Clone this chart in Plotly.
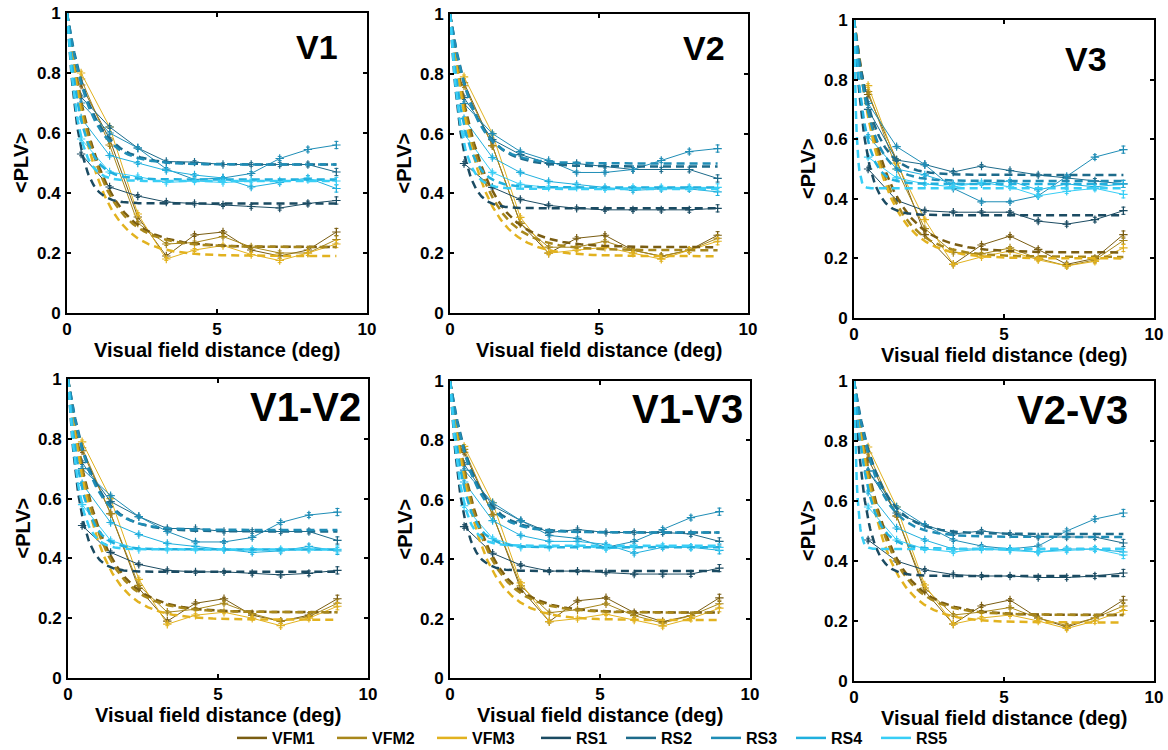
import numpy as np
import plotly.graph_objects as go

# ---------------- data ----------------
DIST = [0.47, 1.42, 2.36, 3.31, 4.25, 5.20, 6.14, 7.09, 8.03, 8.98]
SERIES = ["VFM1", "VFM2", "VFM3", "RS1", "RS2", "RS3", "RS4", "RS5"]
COLORS = ["#7a5d12", "#a8871b", "#e2b21f", "#1b4b62", "#1d6b8b",
          "#1f8db6", "#20b0de", "#38cef6"]
PANELS = ["V1", "V2", "V3", "V1-V2", "V1-V3", "V2-V3"]
ERR = [0.006, 0.005, 0.005, 0.005, 0.005, 0.005, 0.006, 0.007, 0.008, 0.012]

V1 = {
    "VFM1": [0.76, 0.58, 0.32, 0.19, 0.26, 0.27, 0.21, 0.19, 0.21, 0.27],
    "VFM2": [0.78, 0.56, 0.30, 0.23, 0.235, 0.255, 0.22, 0.20, 0.20, 0.245],
    "VFM3": [0.80, 0.62, 0.33, 0.18, 0.21, 0.225, 0.195, 0.175, 0.20, 0.23],
    "RS1": [0.53, 0.42, 0.39, 0.37, 0.365, 0.36, 0.355, 0.35, 0.365, 0.375],
    "RS2": [0.72, 0.62, 0.55, 0.505, 0.503, 0.495, 0.495, 0.495, 0.495, 0.47],
    "RS3": [0.70, 0.60, 0.55, 0.48, 0.445, 0.45, 0.465, 0.515, 0.545, 0.56],
    "RS4": [0.65, 0.525, 0.50, 0.475, 0.46, 0.45, 0.42, 0.435, 0.45, 0.415],
    "RS5": [0.58, 0.47, 0.455, 0.435, 0.44, 0.435, 0.44, 0.44, 0.445, 0.44],
}
V2 = {
    "VFM1": [0.77, 0.56, 0.30, 0.20, 0.25, 0.26, 0.21, 0.19, 0.21, 0.26],
    "VFM2": [0.76, 0.56, 0.30, 0.22, 0.22, 0.24, 0.21, 0.19, 0.21, 0.25],
    "VFM3": [0.79, 0.60, 0.32, 0.20, 0.21, 0.22, 0.20, 0.18, 0.21, 0.24],
    "RS1": [0.50, 0.42, 0.38, 0.36, 0.35, 0.345, 0.345, 0.345, 0.345, 0.35],
    "RS2": [0.72, 0.58, 0.53, 0.50, 0.50, 0.49, 0.48, 0.48, 0.48, 0.45],
    "RS3": [0.70, 0.60, 0.54, 0.51, 0.47, 0.47, 0.48, 0.51, 0.54, 0.55],
    "RS4": [0.65, 0.52, 0.47, 0.44, 0.43, 0.42, 0.41, 0.415, 0.415, 0.405],
    "RS5": [0.60, 0.47, 0.43, 0.42, 0.42, 0.415, 0.42, 0.42, 0.42, 0.42],
}
V3 = {
    "VFM1": [0.75, 0.53, 0.28, 0.18, 0.245, 0.275, 0.23, 0.18, 0.20, 0.28],
    "VFM2": [0.76, 0.50, 0.30, 0.22, 0.215, 0.235, 0.20, 0.175, 0.195, 0.26],
    "VFM3": [0.78, 0.52, 0.33, 0.18, 0.205, 0.225, 0.195, 0.175, 0.19, 0.235],
    "RS1": [0.50, 0.395, 0.36, 0.355, 0.355, 0.355, 0.325, 0.315, 0.33, 0.36],
    "RS2": [0.70, 0.53, 0.515, 0.49, 0.51, 0.495, 0.48, 0.47, 0.46, 0.45],
    "RS3": [0.72, 0.575, 0.515, 0.435, 0.39, 0.39, 0.41, 0.475, 0.54, 0.565],
    "RS4": [0.61, 0.50, 0.48, 0.45, 0.45, 0.46, 0.43, 0.45, 0.44, 0.45],
    "RS5": [0.54, 0.47, 0.45, 0.44, 0.455, 0.44, 0.41, 0.425, 0.435, 0.415],
}
V1V2 = {
    "VFM1": [0.76, 0.55, 0.30, 0.19, 0.25, 0.265, 0.21, 0.19, 0.21, 0.265],
    "VFM2": [0.77, 0.55, 0.31, 0.22, 0.23, 0.25, 0.215, 0.19, 0.205, 0.25],
    "VFM3": [0.79, 0.60, 0.33, 0.18, 0.21, 0.22, 0.20, 0.175, 0.20, 0.24],
    "RS1": [0.51, 0.42, 0.38, 0.36, 0.355, 0.355, 0.35, 0.345, 0.35, 0.36],
    "RS2": [0.72, 0.59, 0.54, 0.50, 0.50, 0.49, 0.49, 0.49, 0.49, 0.46],
    "RS3": [0.70, 0.61, 0.54, 0.49, 0.455, 0.455, 0.47, 0.52, 0.545, 0.555],
    "RS4": [0.65, 0.52, 0.48, 0.45, 0.44, 0.43, 0.42, 0.425, 0.44, 0.425],
    "RS5": [0.58, 0.46, 0.43, 0.43, 0.43, 0.43, 0.43, 0.43, 0.43, 0.43],
}
V1V3 = {
    "VFM1": [0.76, 0.55, 0.30, 0.19, 0.26, 0.27, 0.22, 0.19, 0.21, 0.27],
    "VFM2": [0.77, 0.55, 0.31, 0.22, 0.23, 0.25, 0.21, 0.185, 0.21, 0.25],
    "VFM3": [0.78, 0.59, 0.32, 0.19, 0.20, 0.215, 0.195, 0.175, 0.20, 0.235],
    "RS1": [0.51, 0.42, 0.38, 0.36, 0.36, 0.355, 0.35, 0.35, 0.35, 0.37],
    "RS2": [0.72, 0.58, 0.53, 0.49, 0.50, 0.49, 0.49, 0.49, 0.485, 0.46],
    "RS3": [0.70, 0.59, 0.53, 0.48, 0.47, 0.44, 0.46, 0.50, 0.54, 0.56],
    "RS4": [0.66, 0.53, 0.48, 0.46, 0.46, 0.45, 0.42, 0.44, 0.44, 0.43],
    "RS5": [0.58, 0.47, 0.44, 0.44, 0.445, 0.435, 0.44, 0.445, 0.44, 0.44],
}
V2V3 = {
    "VFM1": [0.74, 0.55, 0.30, 0.19, 0.25, 0.27, 0.21, 0.18, 0.21, 0.27],
    "VFM2": [0.76, 0.55, 0.31, 0.22, 0.23, 0.245, 0.21, 0.185, 0.21, 0.25],
    "VFM3": [0.78, 0.58, 0.32, 0.19, 0.21, 0.22, 0.20, 0.175, 0.20, 0.235],
    "RS1": [0.47, 0.40, 0.37, 0.355, 0.35, 0.35, 0.345, 0.345, 0.35, 0.36],
    "RS2": [0.70, 0.56, 0.52, 0.49, 0.50, 0.49, 0.48, 0.48, 0.48, 0.46],
    "RS3": [0.70, 0.58, 0.52, 0.47, 0.45, 0.44, 0.45, 0.50, 0.54, 0.56],
    "RS4": [0.63, 0.51, 0.47, 0.44, 0.44, 0.44, 0.43, 0.44, 0.44, 0.43],
    "RS5": [0.58, 0.47, 0.44, 0.43, 0.44, 0.435, 0.43, 0.435, 0.44, 0.42],
}
PANEL_DATA = [V1, V2, V3, V1V2, V1V3, V2V3]

# exponential fits: asymptote and decay constant (deg), order = SERIES
FIT_ASYM = [
    [0.22, 0.22, 0.19, 0.365, 0.495, 0.495, 0.445, 0.44],
    [0.22, 0.21, 0.19, 0.35, 0.49, 0.50, 0.42, 0.415],
    [0.22, 0.205, 0.20, 0.345, 0.48, 0.46, 0.45, 0.435],
    [0.22, 0.22, 0.195, 0.355, 0.49, 0.495, 0.43, 0.43],
    [0.22, 0.22, 0.195, 0.36, 0.49, 0.49, 0.44, 0.445],
    [0.22, 0.22, 0.195, 0.35, 0.49, 0.48, 0.44, 0.44],
]
FIT_TAU = [
    [1.0, 0.95, 0.9, 0.38, 0.8, 0.75, 0.46, 0.35],
    [1.0, 0.95, 0.9, 0.38, 0.8, 0.75, 0.46, 0.35],
    [1.0, 0.95, 0.9, 0.38, 0.6, 0.55, 0.35, 0.08],
    [1.0, 0.95, 0.9, 0.38, 0.8, 0.75, 0.46, 0.35],
    [1.0, 0.95, 0.9, 0.38, 0.8, 0.75, 0.46, 0.35],
    [1.0, 0.95, 0.9, 0.38, 0.8, 0.75, 0.46, 0.1],
]

# ---------------- layout geometry (pixels) ----------------
W, H = 1168, 750
BOXES = [  # x0, x1, ytop, ybottom
    (67, 367, 13, 313), (450, 748, 14, 313), (854, 1154, 20, 318),
    (68, 368, 379, 678), (450, 750, 381, 678), (854, 1154, 381, 681),
]
LABEL_POS = [(9.1, 0.885), (9.3, 0.885), (8.5, 0.87),
             (9.83, 0.905), (9.83, 0.905), (9.2, 0.905)]
LABEL_SIZE = [34, 34, 34, 40, 40, 40]

FONT = "Liberation Sans"
fig = go.Figure()
x_fit = np.linspace(0, DIST[-1], 300)

for p, (name, data) in enumerate(zip(PANELS, PANEL_DATA)):
    ax = "" if p == 0 else str(p + 1)
    xr, yr = "x" + ax, "y" + ax
    for s, ser in enumerate(SERIES):
        fig.add_trace(go.Scatter(
            x=DIST, y=data[ser], mode="lines+markers", xaxis=xr, yaxis=yr,
            line=dict(color=COLORS[s], width=1),
            marker=dict(symbol="cross-thin", size=6, line=dict(color=COLORS[s], width=1.2)),
            error_y=dict(type="data", array=ERR, color=COLORS[s], thickness=1, width=2),
            showlegend=False, hoverinfo="skip"))
    for s, ser in enumerate(SERIES):
        a, tau = FIT_ASYM[p][s], FIT_TAU[p][s]
        fig.add_trace(go.Scatter(
            x=x_fit, y=a + (1 - a) * np.exp(-x_fit / tau), mode="lines",
            xaxis=xr, yaxis=yr,
            line=dict(color=COLORS[s], width=2.5, dash="8px,5px"),
            showlegend=False, hoverinfo="skip"))

    x0, x1, yt, yb = BOXES[p]
    axis_common = dict(showline=True, linecolor="black", linewidth=2, mirror="allticks",
                       ticks="inside", ticklen=4, tickwidth=1.5, tickcolor="black",
                       showgrid=False, zeroline=False, automargin=False,
                       tickfont=dict(family=FONT, size=17, color="black", weight="bold"))
    fig.update_layout(**{
        "xaxis" + ax: dict(domain=[x0 / W, x1 / W], range=[0, 10], tickvals=[0, 5, 10],
                           ticktext=["0", "5", "10"], anchor=yr, ticklabelstandoff=0, **axis_common),
        "yaxis" + ax: dict(domain=[1 - yb / H, 1 - yt / H], range=[0, 1],
                           tickvals=[0, 0.2, 0.4, 0.6, 0.8, 1],
                           ticktext=["0", "0.2", "0.4", "0.6", "0.8", "1"],
                           anchor=xr, ticklabelstandoff=1, **axis_common),
    })
    # panel label
    lx, ly = LABEL_POS[p]
    fig.add_annotation(x=lx, y=ly, xref=xr, yref=yr, text="<b>%s</b>" % name,
                       showarrow=False, xanchor="right", yanchor="middle",
                       font=dict(family=FONT, size=LABEL_SIZE[p], color="black"))
    # axis titles
    fig.add_annotation(x=(x0 + x1) / 2 / W, y=1 - (yb + 37) / H, xref="paper", yref="paper",
                       text="<b>Visual field distance (deg)</b>", showarrow=False,
                       xanchor="center", yanchor="middle",
                       font=dict(family=FONT, size=20, color="black"))
    fig.add_annotation(x=(x0 - 46) / W, y=1 - (yt + yb) / 2 / H, xref="paper", yref="paper",
                       text="<b>&lt;PLV&gt;</b>", showarrow=False, textangle=-90,
                       xanchor="center", yanchor="middle",
                       font=dict(family=FONT, size=20, color="black"))

# legend entries: VFM in first legend, RS in second legend
for s, ser in enumerate(SERIES):
    fig.add_trace(go.Scatter(x=[None], y=[None], mode="lines", name=ser,
                             legend="legend" if ser.startswith("VFM") else "legend2",
                             line=dict(color=COLORS[s], width=2.5)))

leg_common = dict(orientation="h", xanchor="left", y=1 - 738 / H, yanchor="middle",
                  font=dict(family=FONT, size=16, color="black", weight="bold"),
                  bgcolor="rgba(0,0,0,0)", itemwidth=30, tracegroupgap=0,
                  entrywidthmode="pixels")
fig.update_layout(
    width=W, height=H, margin=dict(l=0, r=0, t=0, b=0, autoexpand=False),
    paper_bgcolor="white", plot_bgcolor="white",
    showlegend=True,
    legend=dict(x=232 / W, entrywidth=55, **leg_common),
    legend2=dict(x=536 / W, entrywidth=40, **leg_common),
)
fig.write_html("out.html", config={"displayModeBar": False},
               post_script=["document.body.style.margin='0px';"])
